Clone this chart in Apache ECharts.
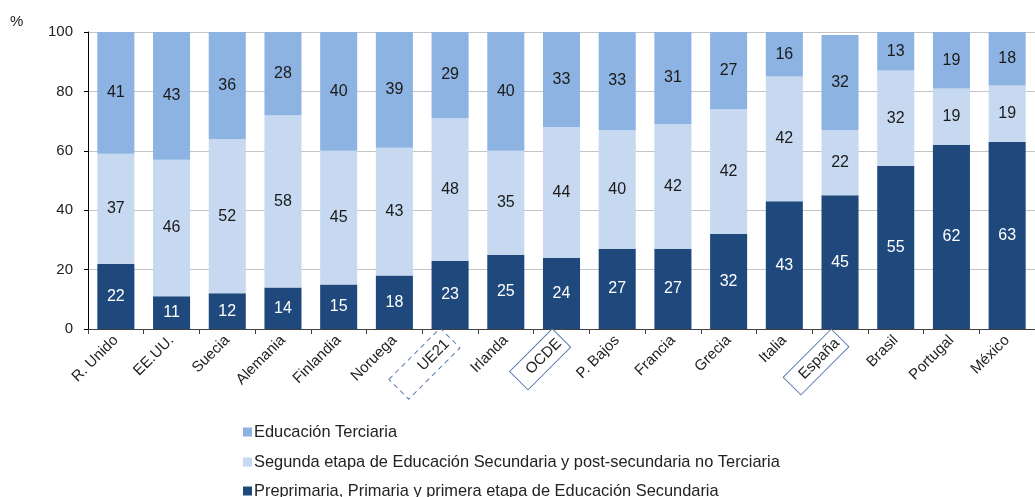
<!DOCTYPE html>
<html>
<head>
<meta charset="utf-8">
<script src="https://cdn.jsdelivr.net/npm/echarts@6/dist/echarts.min.js"></script>
<style>
  html, body { margin: 0; padding: 0; background: #fff; }
  #chart { width: 1035px; height: 497px; }
</style>
</head>
<body>
<div id="chart"></div>
<script>
// Countries / aggregates on the category axis
const categories = ['R. Unido', 'EE.UU.', 'Suecia', 'Alemania', 'Finlandia', 'Noruega', 'UE21', 'Irlanda',
  'OCDE', 'P. Bajos', 'Francia', 'Grecia', 'Italia', 'España', 'Brasil', 'Portugal', 'México'];

// Percentage of population by attained education level
const primaria   = [22, 11, 12, 14, 15, 18, 23, 25, 24, 27, 27, 32, 43, 45, 55, 62, 63];
const secundaria = [37, 46, 52, 58, 45, 43, 48, 35, 44, 40, 42, 42, 42, 22, 32, 19, 19];
const terciaria  = [41, 43, 36, 28, 40, 39, 29, 40, 33, 33, 31, 27, 16, 32, 13, 19, 18];

const yTicks = [0, 20, 40, 60, 80, 100];

const seriesNames = {
  terciaria: 'Educación Terciaria',
  secundaria: 'Segunda etapa de Educación Secundaria y post-secundaria no Terciaria',
  primaria: 'Preprimaria, Primaria y primera etapa de Educación Secundaria'
};

const FONT = '"Liberation Sans", Arial, sans-serif';
const boxed = { UE21: 'dashedBox', OCDE: 'solidBox', 'España': 'solidBox2' };

const chart = echarts.init(document.getElementById('chart'));

function labelStyle(color) {
  return {
    show: true,
    position: 'inside',
    color: color,
    fontFamily: FONT,
    fontSize: 16
  };
}

// one legend block per row, stacked vertically below the plot
function legendRow(name, top) {
  return {
    orient: 'vertical',
    left: 243,
    top: top,
    padding: 0,
    itemWidth: 9,
    itemHeight: 9,
    icon: 'rect',
    selectedMode: false,
    textStyle: { fontFamily: FONT, fontSize: 16.4, color: '#222', padding: [0, 0, 0, -3] },
    data: [name]
  };
}

chart.setOption({
  animation: false,
  textStyle: { fontFamily: FONT },
  graphic: [{
    type: 'text',
    left: 10,
    top: 14,
    style: { text: '%', fontFamily: FONT, fontSize: 15, fill: '#222' }
  }],
  legend: [
    legendRow(seriesNames.terciaria, 424),
    legendRow(seriesNames.secundaria, 454),
    legendRow(seriesNames.primaria, 483)
  ],
  grid: { left: 88, right: -11, top: 32, bottom: 168, containLabel: false },
  xAxis: {
    type: 'category',
    data: categories,
    axisLine: { lineStyle: { color: '#404040', width: 1 } },
    axisTick: { show: true, length: 5, lineStyle: { color: '#404040' } },
    axisLabel: {
      interval: 0,
      rotate: 45,
      margin: 9,
      fontFamily: FONT,
      fontSize: 15,
      color: '#222',
      formatter: function (v) {
        return boxed[v] ? '{' + boxed[v] + '|' + v + '}' : v;
      },
      rich: {
        dashedBox: {
          fontFamily: FONT, fontSize: 15, color: '#222',
          borderColor: '#5a7bb0', borderWidth: 1, borderType: [5, 4],
          padding: [7, 5, 6, 30]
        },
        solidBox: {
          fontFamily: FONT, fontSize: 15, color: '#222',
          borderColor: '#5a7bb0', borderWidth: 1,
          padding: [6, 4, 5, 13]
        },
        solidBox2: {
          fontFamily: FONT, fontSize: 15, color: '#222',
          borderColor: '#5a7bb0', borderWidth: 1,
          padding: [5, 4, 5, 13]
        }
      }
    }
  },
  yAxis: {
    type: 'value',
    min: 0,
    max: 100,
    interval: 20,
    axisLine: { show: true, lineStyle: { color: '#000', width: 1 } },
    axisTick: { show: true, length: 4, lineStyle: { color: '#000' } },
    axisLabel: {
      fontFamily: FONT, fontSize: 15, color: '#222', margin: 15,
      formatter: function (v) { return yTicks.indexOf(v) >= 0 ? String(v) : ''; }
    },
    splitLine: { show: true, lineStyle: { color: '#c4c4c4', width: 1 } }
  },
  series: [
    {
      name: seriesNames.primaria,
      type: 'bar',
      stack: 'total',
      data: primaria,
      barCategoryGap: '33.5%',
      itemStyle: { color: '#1f497d' },
      label: labelStyle('#ffffff')
    },
    {
      name: seriesNames.secundaria,
      type: 'bar',
      stack: 'total',
      data: secundaria,
      barCategoryGap: '33.5%',
      itemStyle: { color: '#c6d9f1' },
      label: labelStyle('#1a1a1a')
    },
    {
      name: seriesNames.terciaria,
      type: 'bar',
      stack: 'total',
      data: terciaria,
      barCategoryGap: '33.5%',
      itemStyle: { color: '#8db3e2' },
      label: labelStyle('#1a1a1a')
    }
  ]
});
</script>
</body>
</html>
